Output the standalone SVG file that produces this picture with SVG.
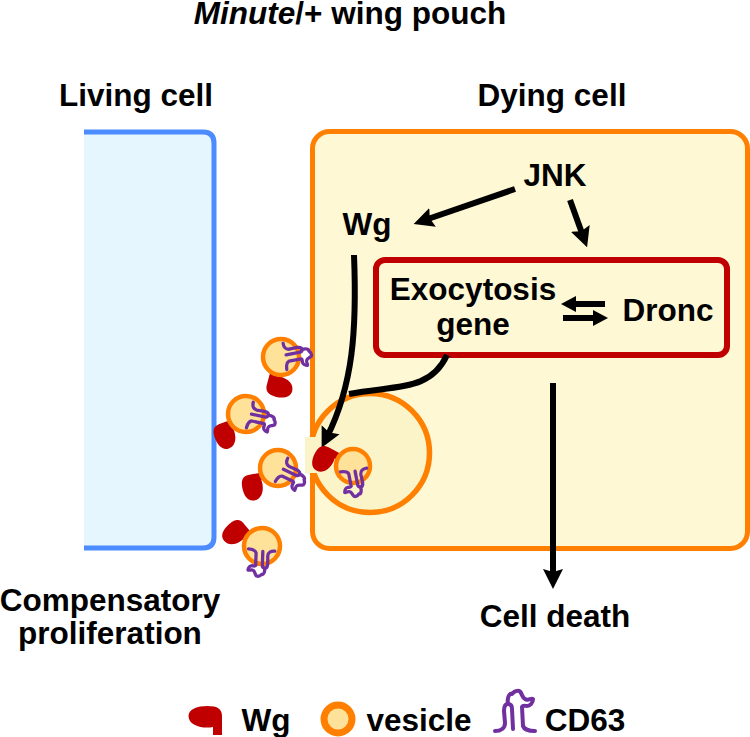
<svg xmlns="http://www.w3.org/2000/svg" xmlns:xlink="http://www.w3.org/1999/xlink" width="750" height="737" viewBox="0 0 750 737">
<style>
text{font-family:"Liberation Sans",Arial,sans-serif;font-weight:bold;font-size:31.5px;fill:#000;text-anchor:middle}
.edge{fill:none;stroke:#000;stroke-width:6}
.ves{fill:#ffe29a;stroke:#ff8000;stroke-width:4.5}
.cd{fill:none;stroke:#7030a0;stroke-width:5;stroke-linecap:round;stroke-linejoin:round}
.wg{fill:#c00000}
</style>
<defs>
<marker id="head" markerUnits="userSpaceOnUse" markerWidth="24" markerHeight="24" refX="8" refY="12" orient="auto">
<path d="M0 2L20 12L0 22L3 12Z" fill="#000"/>
</marker>
<marker id="head-small" markerUnits="userSpaceOnUse" markerWidth="18" markerHeight="18" refX="5" refY="9" orient="auto">
<path d="M0 1L15 9L0 17Z" fill="#000"/>
</marker>
<!-- CD63 tetraspanin: feet on the membrane at the origin, lobes towards -y -->
<g id="cd63">
<path d="M-20 0C-14 0-10-3-10-8L-11-20C-11-25-9-27-7-27C-4-27-3-25-3-22L-2-2"/>
<path d="M-7-27C-8-33-6-38-3-37C0-41 5-41 6-38C8-34 8-33 10-32C13-30 16-33 18-32C18-28 15-25 12-25C10-25 8-26 7-24L8-5C9-2 14 0 20 0"/>
</g>
<!-- Wg ligand: tail ends at the origin, body sits above and to the left -->
<path id="wgl" d="M-4.500 0V-8C-14-6-29-9-29-19C-29-26-20-29-10-29C0-29 5-26 4.500-18V0Z"/>
</defs>

<g id="heading">
<text x="350" y="24"><tspan font-style="italic">Minute</tspan>/+ wing pouch</text>
</g>

<g id="living-cell">
<path d="M84 132H203Q214 132 214 143V537Q214 548 203 548H84Z" fill="#e5f6fe" stroke="none"/>
<path d="M84 132H203Q214 132 214 143V537Q214 548 203 548H84" fill="none" stroke="#4d8cff" stroke-width="5"/>
<text x="136" y="106">Living cell</text>
</g>

<g id="dying-cell">
<rect x="312.500" y="131.500" width="435" height="417" rx="17" fill="#fef8d4" stroke="#ff8000" stroke-width="5"/>
<text x="552" y="106">Dying cell</text>
</g>

<g id="budding-vesicle">
<circle cx="370" cy="453" r="59.500" fill="#fbf4c8" stroke="#ff8000" stroke-width="5.500"/>
<rect x="305" y="437" width="14" height="36" fill="#fbf4c8"/>
</g>

<g id="exocytosis-box">
<rect x="376" y="260" width="351" height="95" rx="9" fill="#fef8d4" stroke="#c00000" stroke-width="6"/>
<text x="473" y="300">Exocytosis</text>
<text x="473" y="335">gene</text>
</g>

<g id="connectors">
<path class="edge" d="M515 189L425 220" marker-end="url(#head)"/>
<path class="edge" d="M570 200L583 236" marker-end="url(#head)"/>
<path class="edge" d="M605 304H571" marker-end="url(#head-small)"/>
<path class="edge" d="M563 318H598" marker-end="url(#head-small)"/>
<path class="edge" d="M354 255C357 330 353 385 327 437" marker-end="url(#head)"/>
<path class="edge" d="M447 355C430 392 395 385 349 394"/>
<path class="edge" d="M553 383V577" marker-end="url(#head)"/>
</g>

<g id="jnk"><text x="555" y="186">JNK</text></g>
<g id="wg-label"><text x="367" y="235">Wg</text></g>
<g id="dronc"><text x="668" y="321">Dronc</text></g>
<g id="cell-death"><text x="555" y="627">Cell death</text></g>
<g id="compensatory">
<text x="110" y="611">Compensatory</text>
<text x="110" y="644">proliferation</text>
</g>

<g id="vesicle-1">
<use class="wg" xlink:href="#wgl" href="#wgl" transform="translate(275 368) rotate(195) scale(.78 .95)"/>
<circle class="ves" cx="281" cy="357" r="18"/>
<use class="cd" xlink:href="#cd63" href="#cd63" transform="translate(281 357) rotate(-98) translate(0 4) scale(-.66)"/>
</g>
<g id="vesicle-2">
<use class="wg" xlink:href="#wgl" href="#wgl" transform="translate(238 421) rotate(-110) scale(.78 .95)"/>
<circle class="ves" cx="246" cy="414" r="18"/>
<use class="cd" xlink:href="#cd63" href="#cd63" transform="translate(246 414) rotate(-75) translate(0 4) scale(-.66)"/>
</g>
<g id="vesicle-3">
<use class="wg" xlink:href="#wgl" href="#wgl" transform="translate(268 475) rotate(-100) scale(.78 .95)"/>
<circle class="ves" cx="278" cy="468" r="18"/>
<use class="cd" xlink:href="#cd63" href="#cd63" transform="translate(278 468) rotate(-62) translate(0 4) scale(-.66)"/>
</g>
<g id="vesicle-4">
<use class="wg" xlink:href="#wgl" href="#wgl" transform="translate(253 540) rotate(-40) scale(.78 .95)"/>
<circle class="ves" cx="262" cy="546" r="18"/>
<use class="cd" xlink:href="#cd63" href="#cd63" transform="translate(262 546) rotate(5) translate(0 4) scale(-.66)"/>
</g>
<g id="vesicle-5">
<use class="wg" xlink:href="#wgl" href="#wgl" transform="translate(343 459) rotate(-62) scale(.78 .95)"/>
<circle class="ves" cx="353" cy="466" r="17"/>
<use class="cd" xlink:href="#cd63" href="#cd63" transform="translate(353 466) rotate(-8) translate(0 4) scale(-.66)"/>
</g>

<g id="legend">
<use class="wg" xlink:href="#wgl" href="#wgl" transform="translate(217.500 735)"/>
<text x="266" y="731">Wg</text>
<circle cx="338" cy="719" r="14" fill="#ffe29a" stroke="#ff8000" stroke-width="7"/>
<text x="419" y="731">vesicle</text>
<use class="cd" style="stroke-width:4" xlink:href="#cd63" href="#cd63" transform="translate(515 731)"/>
<text x="585" y="731">CD63</text>
</g>
</svg>
